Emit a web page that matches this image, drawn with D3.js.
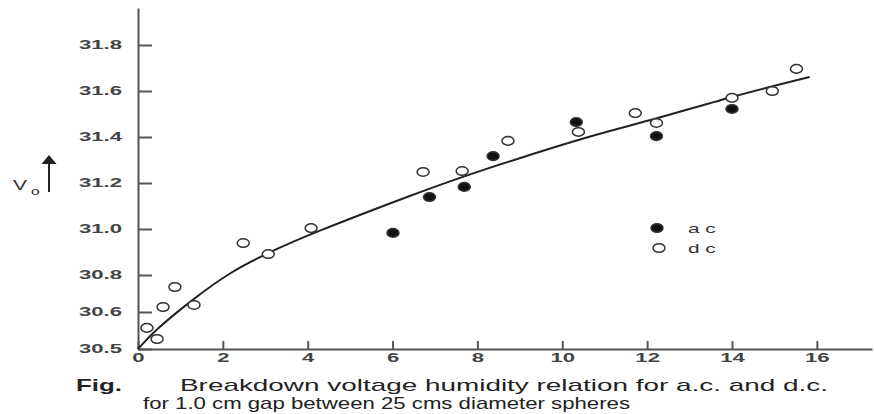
<!DOCTYPE html>
<html>
<head>
    <meta charset="utf-8">
    <title>Breakdown voltage humidity relation</title>
    <script src="https://d3js.org/d3.v7.min.js"></script>
    <style type="text/css">
        html, body { margin: 0; background: #fff; }
        svg { display: block; font-family: "Liberation Sans", Arial, sans-serif; }
        .axis path, .axis line { stroke: #555; stroke-width: 2px; }
        .axis text { fill: #444; font-weight: bold; font-size: 12.3px; }
    </style>
</head>
<body>
<svg id="chart" width="874" height="414"></svg>
<script type="text/javascript">
    // humidity (x) vs breakdown voltage Vo (y)
    var xTicks = [0, 2, 4, 6, 8, 10, 12, 14, 16];
    var yTicks = [30.5, 30.6, 30.8, 31.0, 31.2, 31.4, 31.6, 31.8];
    var yTickLabels = ["30.5", "30.6", "30.8", "31.0", "31.2", "31.4", "31.6", "31.8"];

    var acX = [6.01, 6.87, 7.69, 8.37, 10.33, 12.22, 14.0];
    var acY = [30.983, 31.139, 31.183, 31.317, 31.465, 31.404, 31.522];

    var dcX = [0.21, 0.45, 0.59, 0.87, 1.32, 2.48, 3.07, 4.08, 6.72, 7.64, 8.72, 10.38, 11.72, 12.22, 14.0, 14.95, 15.52];
    var dcY = [30.557, 30.527, 30.627, 30.735, 30.638, 30.939, 30.891, 31.004, 31.248, 31.252, 31.383, 31.422, 31.504, 31.461, 31.570, 31.600, 31.696];

    // fitted curve
    var fitX = [0, 0.40, 1.27, 2.17, 3.06, 4.05, 6.64, 7.63, 9.0, 10.89, 12.13, 13.95, 15.83];
    var fitY = [30.5, 30.551, 30.665, 30.813, 30.896, 30.978, 31.161, 31.226, 31.309, 31.417, 31.474, 31.574, 31.661];

    var svg = d3.select("#chart");

    // the printed y axis is not evenly spaced, so the scale is piecewise
    var x = d3.scaleLinear().domain([0, 17.3]).range([138, 872]);
    var y = d3.scaleLinear()
        .domain([30.5, 30.6, 30.8, 31.0, 31.2, 31.4, 31.6, 31.8, 31.96])
        .range([349, 312, 275, 229, 183, 137, 91, 45, 8]);

    var stretch = 1.8;

    var xAxis = svg.append("g").attr("class", "axis")
        .attr("transform", "translate(0,349)")
        .call(d3.axisBottom(x).tickValues(xTicks).tickSizeInner(-8).tickSizeOuter(0));
    xAxis.selectAll(".tick text")
        .attr("y", 0).attr("dy", "0.71em")
        .attr("transform", "translate(0,4) scale(" + stretch + ",1)");

    var yAxis = svg.append("g").attr("class", "axis")
        .attr("transform", "translate(138,0)")
        .call(d3.axisLeft(y).tickValues(yTicks).tickSizeInner(-14).tickSizeOuter(0)
            .tickFormat(function(d, i) { return yTickLabels[i]; }));
    yAxis.selectAll(".tick text")
        .attr("x", 0)
        .attr("transform", "translate(-16,0) scale(" + stretch + ",1)");

    // curve
    var line = d3.line()
        .x(function(d) { return x(d[0]); })
        .y(function(d) { return y(d[1]); })
        .curve(d3.curveBasis);
    svg.append("path")
        .datum(d3.zip(fitX, fitY))
        .attr("d", line)
        .attr("fill", "none")
        .attr("stroke", "#222")
        .attr("stroke-width", 2);

    function marks(xs, ys, filled) {
        svg.append("g").selectAll("ellipse")
            .data(d3.zip(xs, ys))
            .enter().append("ellipse")
            .attr("cx", function(d) { return x(d[0]); })
            .attr("cy", function(d) { return y(d[1]); })
            .attr("rx", 6).attr("ry", 4.3)
            .attr("fill", filled ? "#111" : "#fff")
            .attr("stroke", "#333")
            .attr("stroke-width", 1.5);
    }
    marks(dcX, dcY, false);
    marks(acX, acY, true);

    // legend
    var legend = [{ label: "a c", filled: true, cx: 657, cy: 228 },
                  { label: "d c", filled: false, cx: 659, cy: 248 }];
    legend.forEach(function(l) {
        svg.append("ellipse")
            .attr("cx", l.cx).attr("cy", l.cy).attr("rx", 6).attr("ry", 4.3)
            .attr("fill", l.filled ? "#111" : "#fff")
            .attr("stroke", "#333").attr("stroke-width", 1.5);
        svg.append("text")
            .attr("transform", "translate(688," + (l.cy + 5) + ") scale(1.6,1)")
            .attr("fill", "#333").attr("font-size", 13)
            .text(l.label);
    });

    // y label with arrow
    svg.append("text")
        .attr("transform", "translate(13,190) scale(1.5,1)")
        .attr("fill", "#333").attr("font-size", 14)
        .text("V");
    svg.append("text")
        .attr("transform", "translate(31,195) scale(1.5,1)")
        .attr("fill", "#333").attr("font-size", 10.5)
        .text("o");
    svg.append("line")
        .attr("x1", 49).attr("x2", 49).attr("y1", 192).attr("y2", 162)
        .attr("stroke", "#222").attr("stroke-width", 2);
    svg.append("path")
        .attr("d", "M49,155L41.5,164L56.5,164Z")
        .attr("fill", "#222");

    // caption
    svg.append("text")
        .attr("x", 76).attr("y", 391)
        .attr("font-size", 17).attr("font-weight", "bold").attr("fill", "#222")
        .attr("textLength", 46).attr("lengthAdjust", "spacingAndGlyphs")
        .text("Fig.");
    svg.append("text")
        .attr("x", 180).attr("y", 391)
        .attr("font-size", 17).attr("fill", "#222")
        .attr("textLength", 648).attr("lengthAdjust", "spacingAndGlyphs")
        .text("Breakdown voltage humidity relation for a.c. and d.c.");
    svg.append("text")
        .attr("x", 143).attr("y", 409)
        .attr("font-size", 17).attr("fill", "#222")
        .attr("textLength", 487).attr("lengthAdjust", "spacingAndGlyphs")
        .text("for 1.0 cm gap between 25 cms diameter spheres");
</script>
</body>
</html>
